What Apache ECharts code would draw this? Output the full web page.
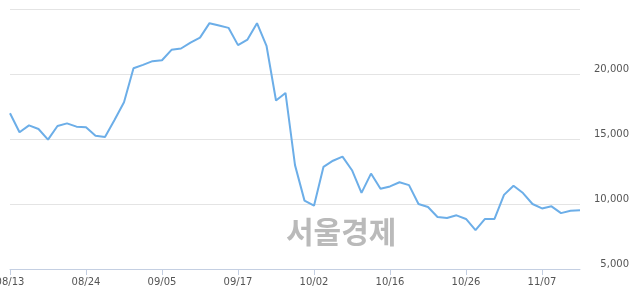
<!DOCTYPE html>
<html>
<head>
<meta charset="utf-8">
<script src="https://cdn.jsdelivr.net/npm/echarts@6/dist/echarts.min.js"></script>
<style>
html,body{margin:0;padding:0;background:#fff;}
#c{width:640px;height:294px;}
</style>
</head>
<body>
<div id="c"></div>
<script>
var dates = ["08/13","08/14","08/16","08/17","08/20","08/21","08/22","08/23","08/24","08/27","08/28","08/29","08/30","08/31",
"09/03","09/04","09/05","09/06","09/07","09/10","09/11","09/12","09/13","09/14","09/17","09/18","09/19","09/20","09/21","09/27","09/28",
"10/01","10/02","10/04","10/05","10/08","10/10","10/11","10/12","10/15","10/16","10/17","10/18","10/19","10/22","10/23","10/24","10/25","10/26",
"10/29","10/30","10/31","11/01","11/02","11/05","11/06","11/07","11/08","11/09","11/12","11/13"];
var prices = [16980,15520,16050,15770,14950,16000,16200,15950,15900,15250,
15150,16460,17820,20440,20700,20990,21060,21860,21960,22420,
22800,23910,23730,23550,22220,22650,23910,22170,17960,18540,
12990,10260,9870,12860,13330,13640,12600,10860,12340,11170,
11350,11670,11450,10000,9770,9000,8920,9130,8850,7990,
8850,8850,10700,11410,10840,10000,9660,9820,9300,9480,9510];
var yMin = 5000, yMax = 25000, yStep = 5000;
var watermark = "서울경제";

var chart = echarts.init(document.getElementById('c'), null, {renderer:'canvas'});
chart.setOption({
  animation:false,
  backgroundColor:'#fff',
  grid:{left:10,right:60,top:9,bottom:25,containLabel:false,outerBoundsMode:'none'},
  xAxis:{
    type:'category',
    data:dates,
    boundaryGap:false,
    axisLine:{lineStyle:{color:'#c4cfe2',width:1}},
    axisTick:{interval:7,length:6,lineStyle:{color:'#c4cfe2'}},
    axisLabel:{interval:7,color:'#555',fontSize:10,fontFamily:'DejaVu Sans',margin:8,hideOverlap:false},
    splitLine:{show:false}
  },
  yAxis:{
    type:'value',
    position:'right',
    min:yMin,max:yMax,interval:yStep,
    axisLine:{show:false},
    axisTick:{show:false},
    axisLabel:{
      showMaxLabel:false,
      color:'#555',fontSize:10,fontFamily:'DejaVu Sans',
      align:'right',margin:49,verticalAlign:'bottom',
      formatter:function(v){return v.toLocaleString('en-US');}
    },
    splitLine:{lineStyle:{color:'#e4e4e4',width:1}}
  },
  graphic:[{
    type:'text',
    left:286,top:217,
    style:{text:watermark,font:'bold 30px "Noto Sans CJK KR"',fill:'#bababa'},
    z:0
  }],
  series:[{
    type:'line',
    data:prices,
    symbol:'none',
    lineStyle:{color:'#6caee8',width:2},
    z:5
  }]
});
</script>
</body>
</html>
